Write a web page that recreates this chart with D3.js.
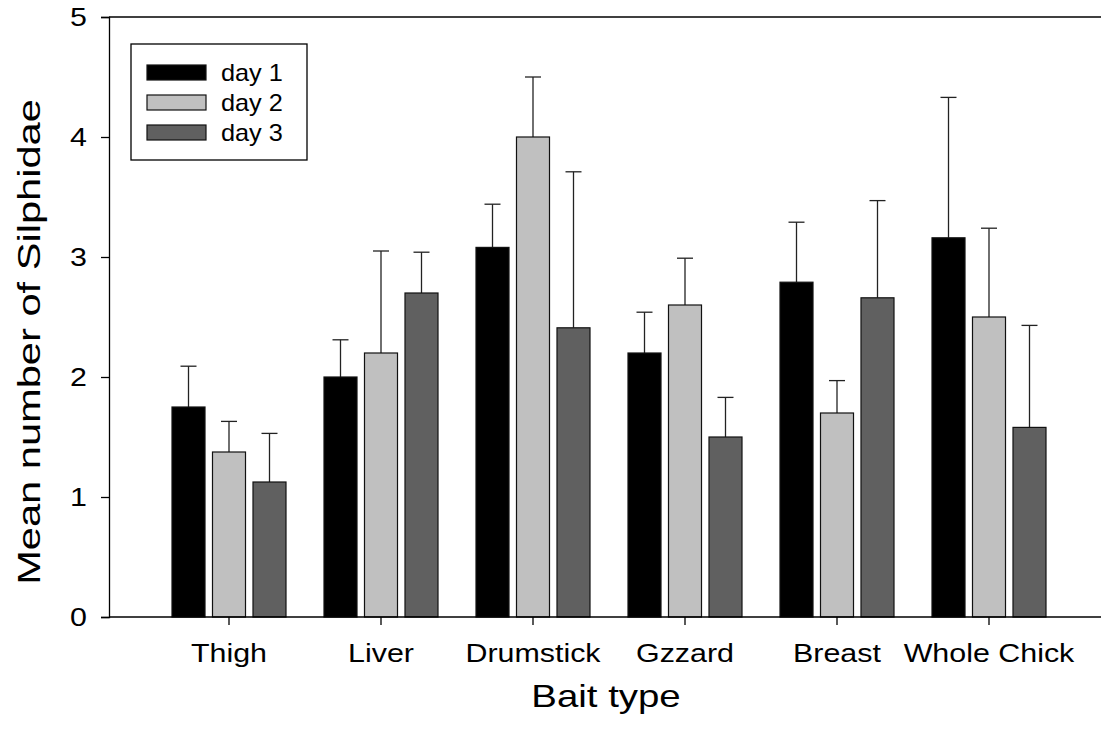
<!DOCTYPE html>
<html>
<head>
<meta charset="utf-8">
<script src="https://cdnjs.cloudflare.com/ajax/libs/d3/7.8.5/d3.min.js"></script>
<style>
  body { margin: 0; background: #fff; }
  svg { display: block; font-family: "Liberation Sans", Arial, sans-serif; }
</style>
</head>
<body>
<svg id="chart"></svg>
<script>
const SVG_WIDTH = 1101;
const SVG_HEIGHT = 733;

// data
const baits = ["Thigh", "Liver", "Drumstick", "Gzzard", "Breast", "Whole Chick"];
const days = ["day 1", "day 2", "day 3"];
const day1 = [1.75, 2.0, 3.08, 2.2, 2.79, 3.16];
const day2 = [1.375, 2.2, 4.0, 2.6, 1.7, 2.5];
const day3 = [1.125, 2.7, 2.41, 1.5, 2.66, 1.58];
const day1_err = [2.09, 2.31, 3.44, 2.54, 3.29, 4.33];
const day2_err = [1.63, 3.05, 4.5, 2.99, 1.97, 3.24];
const day3_err = [1.53, 3.04, 3.71, 1.83, 3.47, 2.43];
const y_ticks = [0, 1, 2, 3, 4, 5];

const fills = ["#000000", "#c0c0c0", "#606060"];
const series = [day1, day2, day3];
const errs = [day1_err, day2_err, day3_err];

const LEFT = 109, TOP = 17, BOTTOM = 617, RIGHT = 1101;
const STRETCH = 1.17; // the source text is widened along its baseline

let svg = d3.select("#chart")
    .attr("width", SVG_WIDTH)
    .attr("height", SVG_HEIGHT);

let y = d3.scaleLinear().domain([0, 5]).range([BOTTOM, TOP]);
let x0 = d3.scaleBand().domain(baits).range([153, 1065]).padding(0);
let x1 = d3.scaleBand().domain(days).range([0, 114]).paddingInner(0.185).paddingOuter(0);

// bars
baits.forEach(function(b, i) {
    let gx = x0(b) + x0.bandwidth() / 2 - 57;
    let g = svg.append("g").attr("transform", "translate(" + gx + ",0)");
    days.forEach(function(d, j) {
        let v = series[j][i];
        let e = errs[j][i];
        let cx = x1(d) + x1.bandwidth() / 2;
        // error bar (upper only)
        g.append("line")
            .attr("x1", cx).attr("x2", cx)
            .attr("y1", y(v)).attr("y2", y(e))
            .attr("stroke", "#222").attr("stroke-width", 1.3);
        g.append("line")
            .attr("x1", cx - 8).attr("x2", cx + 8)
            .attr("y1", y(e)).attr("y2", y(e))
            .attr("stroke", "#222").attr("stroke-width", 1.3);
        g.append("rect")
            .attr("x", x1(d))
            .attr("y", y(v))
            .attr("width", x1.bandwidth())
            .attr("height", y(0) - y(v))
            .attr("fill", fills[j])
            .attr("stroke", "#111")
            .attr("stroke-width", 1.2);
    });
});

// top frame line and baseline
svg.append("line").attr("x1", LEFT).attr("x2", RIGHT).attr("y1", TOP).attr("y2", TOP)
    .attr("stroke", "#000").attr("stroke-width", 1.3);
svg.append("line").attr("x1", LEFT).attr("x2", RIGHT).attr("y1", BOTTOM).attr("y2", BOTTOM)
    .attr("stroke", "#000").attr("stroke-width", 1.3);

// y axis
let yAxis = d3.axisLeft(y).tickValues(y_ticks).tickFormat(d3.format("d")).tickSize(8).tickPadding(17);
let yg = svg.append("g").attr("transform", "translate(" + LEFT + ",0)").call(yAxis);
yg.select(".domain").attr("stroke-width", 1.3);
yg.selectAll(".tick line").attr("stroke-width", 1.3);
yg.selectAll("text")
    .attr("font-size", 26).attr("fill", "#000")
    .attr("x", -22 / STRETCH)
    .attr("transform", "scale(" + STRETCH + ",1)");

// x axis
let xAxis = d3.axisBottom(x0).tickSize(8).tickPadding(19).tickSizeOuter(0);
let xg = svg.append("g").attr("transform", "translate(0," + BOTTOM + ")").call(xAxis);
xg.select(".domain").remove();
xg.selectAll(".tick line").attr("stroke-width", 1.3);
xg.selectAll("text")
    .attr("font-size", 26).attr("fill", "#000")
    .attr("transform", "scale(" + STRETCH + ",1)");

// axis titles
svg.append("text")
    .attr("transform", "translate(606,707) scale(1.2,1)")
    .attr("text-anchor", "middle")
    .attr("font-size", 32)
    .text("Bait type");
svg.append("text")
    .attr("transform", "translate(40,342) rotate(-90) scale(1.3,1)")
    .attr("text-anchor", "middle")
    .attr("font-size", 32)
    .text("Mean number of Silphidae");

// legend
let legend = svg.append("g");
legend.append("rect")
    .attr("x", 131).attr("y", 44).attr("width", 176).attr("height", 116)
    .attr("fill", "#fff").attr("stroke", "#000").attr("stroke-width", 1.3);
days.forEach(function(d, j) {
    legend.append("rect")
        .attr("x", 147).attr("y", 65 + j * 30).attr("width", 59).attr("height", 15)
        .attr("fill", fills[j]).attr("stroke", "#111").attr("stroke-width", 1.2);
    legend.append("text")
        .attr("transform", "translate(221," + (72.5 + j * 30) + ") scale(1.1,1)")
        .attr("dy", "0.35em")
        .attr("font-size", 23)
        .text(d);
});
</script>
</body>
</html>
